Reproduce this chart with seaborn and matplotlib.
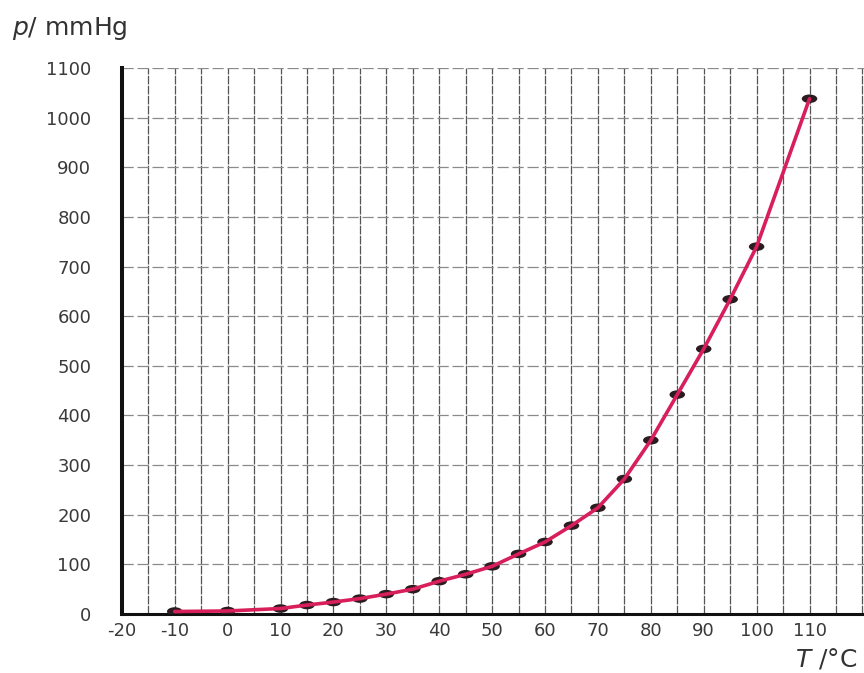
import matplotlib
matplotlib.use("Agg")
import matplotlib.pyplot as plt
from matplotlib.path import Path
from matplotlib.markers import MarkerStyle
from matplotlib.transforms import Affine2D
import seaborn as sns
import pandas as pd

# Vapour pressure readings
temperature_c = [-10, 0, 10, 15, 20, 25, 30, 35, 40, 45, 50, 55,
                 60, 65, 70, 75, 80, 85, 90, 95, 100, 110]
pressure_mmhg = [5, 6, 11, 18, 24, 31, 40, 50, 66, 80, 96, 121,
                 145, 178, 214, 272, 350, 442, 534, 634, 740, 1038]

x_tick_values = list(range(-20, 111, 10))
x_tick_labels = ["-20", "-10", "0", "10", "20", "30", "40", "50",
                 "60", "70", "80", "90", "100", "110"]
x_minor_values = list(range(-15, 121, 10)) + [120]
y_tick_values = list(range(0, 1101, 100))
y_tick_labels = [str(v) for v in y_tick_values]

df = pd.DataFrame({"T": temperature_c, "p": pressure_mmhg})

sns.set_style("white")
plt.rcParams["font.family"] = ["DejaVu Sans"]

fig = plt.figure(figsize=(8.64, 6.73), dpi=100)
ax = fig.add_axes([0.141, 0.0877, 0.859, 0.8113])

# flattened ellipse marker for the measured points
ellipse = Path.unit_circle().transformed(Affine2D().scale(1.0, 0.55))
dot = MarkerStyle(ellipse)

sns.scatterplot(data=df, x="T", y="p", ax=ax, marker=dot, s=125,
                color="#2a1c20", edgecolor="none", zorder=3, legend=False)
sns.lineplot(data=df, x="T", y="p", ax=ax, color="#d81e5b",
             linewidth=2.6, zorder=4, legend=False)

ax.set_xlim(-20, 120.3)
ax.set_ylim(0, 1100)

ax.set_xticks(x_tick_values)
ax.set_xticklabels(x_tick_labels)
ax.set_xticks(x_minor_values, minor=True)
ax.set_yticks(y_tick_values)
ax.set_yticklabels(y_tick_labels)

ax.tick_params(axis="both", which="both", length=0)
ax.tick_params(axis="x", pad=6, labelsize=13, labelcolor="#3a3a3a")
ax.tick_params(axis="y", pad=22, labelsize=13, labelcolor="#3a3a3a")

ax.grid(True, axis="x", which="both", color="#555555", linewidth=0.9,
        linestyle=(0, (7, 1)))
ax.grid(True, axis="y", which="major", color="#8a8a8a", linewidth=0.9,
        linestyle=(0, (9, 3)))
ax.set_axisbelow(True)

for side in ("top", "right"):
    ax.spines[side].set_visible(False)
ax.spines["left"].set_linewidth(2.9)
ax.spines["bottom"].set_linewidth(2.2)
ax.spines["left"].set_color("#111111")
ax.spines["bottom"].set_color("#111111")

ax.set_xlabel("")
ax.set_ylabel("")

fig.text(0.014, 0.948, r"$p$/ mmHg", fontsize=18, color="#333333",
         ha="left", va="baseline")
fig.text(0.992, 0.010, r"$T$ /°C", fontsize=18, color="#333333",
         ha="right", va="baseline")

fig.savefig("out.png", dpi=100)
